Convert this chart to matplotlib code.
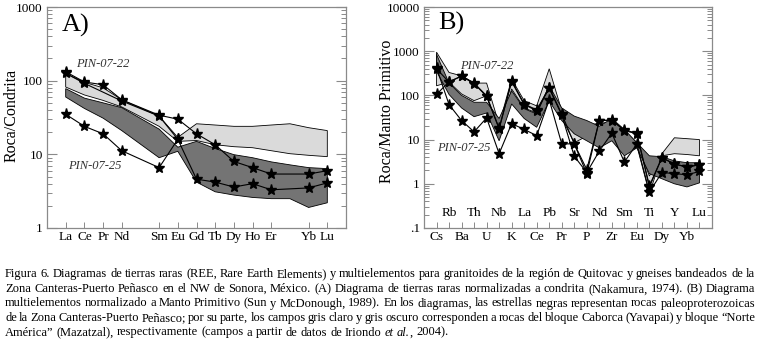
import re
import numpy as np
import matplotlib
matplotlib.use('Agg')
import matplotlib.pyplot as plt
from matplotlib.ticker import FixedLocator, FixedFormatter, LogLocator, NullFormatter
from matplotlib.transforms import blended_transform_factory

plt.rcParams['font.family'] = ['Liberation Serif', 'DejaVu Serif']
nan = np.nan

# ---------------- Panel A: REE normalised to chondrite ----------------
ree = ['La', 'Ce', 'Pr', 'Nd', 'Pm', 'Sm', 'Eu', 'Gd', 'Tb', 'Dy', 'Ho', 'Er', 'Tm', 'Yb', 'Lu']
ree_labels = ['La', 'Ce', 'Pr', 'Nd', '', 'Sm', 'Eu', 'Gd', 'Tb', 'Dy', 'Ho', 'Er', '', 'Yb', 'Lu']
a_pin22a = [132, 96, 88, 55, nan, 34, 30, 19, 13.5, 8.0, 6.6, 5.4, nan, 5.4, 6.0]
a_pin22b = [126, 92, nan, 53, nan, 33, 16, 4.6, 4.2, 3.6, 4.0, 3.3, nan, 3.5, 4.1]
a_pin25 = [35, 24, 19, 11.2, nan, 6.6, 16, nan, nan, nan, nan, nan, nan, nan, nan]
a_light_hi = [125, 95, 80, 55, nan, 33, 17, 26, 25, 24, 24, 25, 26, 23, 21]
a_light_lo = [82, 64, 54, 44, nan, 24, 15, 15.4, 13.5, 12.7, 12.3, 11.2, 10.2, 9.7, 9.3]
a_dark_hi = [78, 58, 50, 43, nan, 22, 12.5, 15, 12, 9.9, 9.0, 7.9, 7.2, 6.6, 6.4]
a_dark_lo = [60, 42, 31, 21, nan, 9, 11, 4.2, 3.1, 2.8, 2.6, 2.5, 2.5, 1.9, 2.2]
a_yticks = [1, 10, 100, 1000]
a_yticklabels = ['1', '10', '100', '1000']

# ---------------- Panel B: multielement, primitive mantle ----------------
elem_b = ['Cs', 'Rb', 'Ba', 'Th', 'U', 'Nb', 'K', 'La', 'Ce', 'Pb', 'Pr',
          'Sr', 'P', 'Nd', 'Zr', 'Sm', 'Eu', 'Ti', 'Dy', 'Y', 'Yb', 'Lu']
b_pin22a = [400, 200, 277, 190, 98, 18, 214, 64, 47, 150, 38, 8, 2.1, 27, 27, 16.5, 14, 0.85, 3.9, 2.8, 2.4, 2.7]
b_pin22b = [105, 205, 270, 185, 95, 17.5, 205, 62, 45, 145, 36, 4.2, 1.8, 5.5, 14, 3.1, 8, 0.65, 1.8, 1.7, 1.6, 1.9]
b_pin25 = [420, 62, 27, 15, 31, 4.8, 23, 17, 12.3, 80, 8, 8, 1.7, 27, 28, 16, 13.5, 0.9, 3.9, 2.8, 2.4, 2.7]
b_light_hi = [950, 330, 277, 190, 190, 22, 235, 76, 58, 400, 45, 14, 20, 24, 24, 16, 8.5, 1.5, 4.8, 11, 10.5, 10]
b_light_lo = [165, 200, 108, 76, 98, 13, 140, 52, 40, 165, 31, 8.5, 12, 16, 16, 9.4, 7.2, 0.6, 4.3, 4.8, 4.6, 4.3]
b_dark_hi = [850, 190, 100, 70, 70, 30, 127, 50, 38, 165, 52, 34, 27, 20, 30, 17, 8.5, 4.3, 4.1, 3.3, 3.0, 3.0]
b_dark_lo = [350, 105, 52, 33, 40, 9.4, 64, 30, 19, 75, 27, 13.5, 9.4, 6.5, 9.4, 4.3, 6.5, 1.7, 1.3, 1.0, 0.85, 1.05]
b_yticks = [0.1, 1, 10, 100, 1000, 10000]
b_yticklabels = ['.1', '1', '10', '100', '1000', '10000']

caption_lines = [
    "Figura 6. Diagramas de tierras raras (REE, Rare Earth Elements) y multielementos para granitoides de la región de Quitovac y gneises bandeados de la",
    "Zona Canteras-Puerto Peñasco en el NW de Sonora, México. (A) Diagrama de tierras raras normalizadas a condrita (Nakamura, 1974). (B) Diagrama",
    "multielementos normalizado a Manto Primitivo (Sun y McDonough, 1989). En los diagramas, las estrellas negras representan rocas paleoproterozoicas",
    "de la Zona Canteras-Puerto Peñasco; por su parte, los campos gris claro y gris oscuro corresponden a rocas del bloque Caborca (Yavapai) y bloque “Norte",
    "América” (Mazatzal), respectivamente (campos a partir de datos de Iriondo {et} {al.}, 2004).",
]

LIGHT = '#dadada'
DARK = '#747474'
FRAME = '#8a8a8a'

W, H = 760, 346
fig = plt.figure(figsize=(W / 100, H / 100), dpi=100)
fig.patch.set_facecolor('white')


def px_axes(left, right, top, bottom):
    return fig.add_axes([left / W, (H - bottom) / H, (right - left) / W, (bottom - top) / H])


def draw_field(ax, x, hi, lo, color):
    hi = np.asarray(hi, float)
    lo = np.asarray(lo, float)
    m = np.isfinite(hi) & np.isfinite(lo)
    xs = np.concatenate([x[m], x[m][::-1]])
    ys = np.concatenate([hi[m], lo[m][::-1]])
    ax.fill(xs, ys, facecolor=color, edgecolor='black', lw=0.6, zorder=2)


def draw_series(ax, x, vals):
    v = np.asarray(vals, float)
    m = np.isfinite(v)
    ax.plot(x[m], v[m], color='black', lw=0.8, marker='*', ms=8,
            mfc='black', mec='black', zorder=4)


def style_axes(ax, yticks, yticklabels):
    ax.set_yscale('log')
    for s in ax.spines.values():
        s.set_color(FRAME)
        s.set_linewidth(0.9)
    ax.yaxis.set_major_locator(FixedLocator(yticks))
    ax.yaxis.set_major_formatter(FixedFormatter(yticklabels))
    ax.yaxis.set_minor_locator(LogLocator(base=10, subs=np.arange(2, 10)))
    ax.yaxis.set_minor_formatter(NullFormatter())
    ax.tick_params(axis='y', which='major', direction='in', left=True, right=True,
                   length=7, width=0.8, color=FRAME, labelsize=9.5, pad=3)
    ax.tick_params(axis='y', which='minor', direction='in', left=True, right=True,
                   length=3.5, width=0.7, color=FRAME)
    ax.tick_params(axis='x', which='both', direction='in', bottom=True, top=False,
                   length=4, width=0.7, color=FRAME, labelsize=9.5, pad=2.5)


# ---------- Panel A ----------
axA = px_axes(47, 346, 7, 228)
xa = np.arange(len(ree), dtype=float)
draw_field(axA, xa, a_light_hi, a_light_lo, LIGHT)
draw_field(axA, xa, a_dark_hi, a_dark_lo, DARK)
for s in (a_pin22a, a_pin22b, a_pin25):
    draw_series(axA, xa, s)
style_axes(axA, a_yticks, a_yticklabels)
axA.set_ylim(1, 1000)
axA.set_xlim(-1, len(ree))
tick_idx = [i for i, l in enumerate(ree_labels) if l]
axA.set_xticks(xa[tick_idx])
axA.set_xticklabels([ree_labels[i] for i in tick_idx])
axA.set_ylabel('Roca/Condrita', fontsize=11.5, va='center')
axA.yaxis.set_label_coords(-0.118, 0.51)
axA.text(0.048, 0.89, 'A)', transform=axA.transAxes, fontsize=19, va='baseline', ha='left')
axA.text(0.187, 0.742, 'PIN-07-22', transform=axA.transAxes, fontsize=9, style='italic',
         color='#333333', ha='center', va='center')
axA.text(0.161, 0.281, 'PIN-07-25', transform=axA.transAxes, fontsize=9, style='italic',
         color='#333333', ha='center', va='center')

# ---------- Panel B ----------
axB = px_axes(424, 712, 7, 228)
xb = np.arange(len(elem_b), dtype=float)
draw_field(axB, xb, b_light_hi, b_light_lo, LIGHT)
draw_field(axB, xb, b_dark_hi, b_dark_lo, DARK)
for s in (b_pin22a, b_pin22b, b_pin25):
    draw_series(axB, xb, s)
style_axes(axB, b_yticks, b_yticklabels)
axB.set_ylim(0.1, 10000)
axB.set_xlim(-1, len(elem_b))
axB.set_xticks(xb)
axB.set_xticklabels([e if i % 2 == 0 else '' for i, e in enumerate(elem_b)])
trB = blended_transform_factory(axB.transData, axB.transAxes)
for i, e in enumerate(elem_b):
    if i % 2 == 1:
        axB.text(xb[i], 0.068, e, transform=trB, fontsize=9.5, ha='center', va='center')
axB.set_ylabel('Roca/Manto Primitivo', fontsize=11.5, va='center')
axB.yaxis.set_label_coords(-0.13, 0.53)
axB.text(0.048, 0.90, 'B)', transform=axB.transAxes, fontsize=19, va='baseline', ha='left')
axB.text(0.219, 0.733, 'PIN-07-22', transform=axB.transAxes, fontsize=9, style='italic',
         color='#333333', ha='center', va='center')
axB.text(0.139, 0.362, 'PIN-07-25', transform=axB.transAxes, fontsize=9, style='italic',
         color='#333333', ha='center', va='center')

# ---------- Caption (justified) ----------
renderer = fig.canvas.get_renderer()


def text_width(s, fs, style):
    t = fig.text(0, 0, s, fontsize=fs, style=style)
    w = t.get_window_extent(renderer=renderer).width
    t.remove()
    return w


def parse_line(line):
    words = []
    for w in line.split(' '):
        segs = []
        for part in re.split(r'(\{[^}]*\})', w):
            if not part:
                continue
            if part.startswith('{'):
                segs.append((part[1:-1], 'italic'))
            else:
                segs.append((part, 'normal'))
        words.append(segs)
    return words


cap_left, cap_right = 5, 755
target = cap_right - cap_left
parsed = [parse_line(l) for l in caption_lines]
fs = 9.0
while fs > 6:
    sp = text_width('a a', fs, 'normal') - text_width('aa', fs, 'normal')
    ok = True
    for words in parsed[:-1]:
        tot = sum(text_width(s, fs, st) for segs in words for s, st in segs)
        if tot + (len(words) - 1) * sp * 0.4 > target:
            ok = False
            break
    if ok:
        break
    fs -= 0.1

sp = text_width('a a', fs, 'normal') - text_width('aa', fs, 'normal')
baselines = [277, 292, 306.5, 321, 335.5]
for li, (words, yb) in enumerate(zip(parsed, baselines)):
    widths = [[text_width(s, fs, st) for s, st in segs] for segs in words]
    tot = sum(sum(w) for w in widths)
    if li < len(parsed) - 1 and len(words) > 1:
        gap = (target - tot) / (len(words) - 1)
    else:
        gap = sp
    x = cap_left
    for segs, ws in zip(words, widths):
        for (s, st), w in zip(segs, ws):
            fig.text(x / W, (H - yb) / H, s, fontsize=fs, style=st, ha='left', va='baseline')
            x += w
        x += gap

fig.savefig('out.png', dpi=100)
